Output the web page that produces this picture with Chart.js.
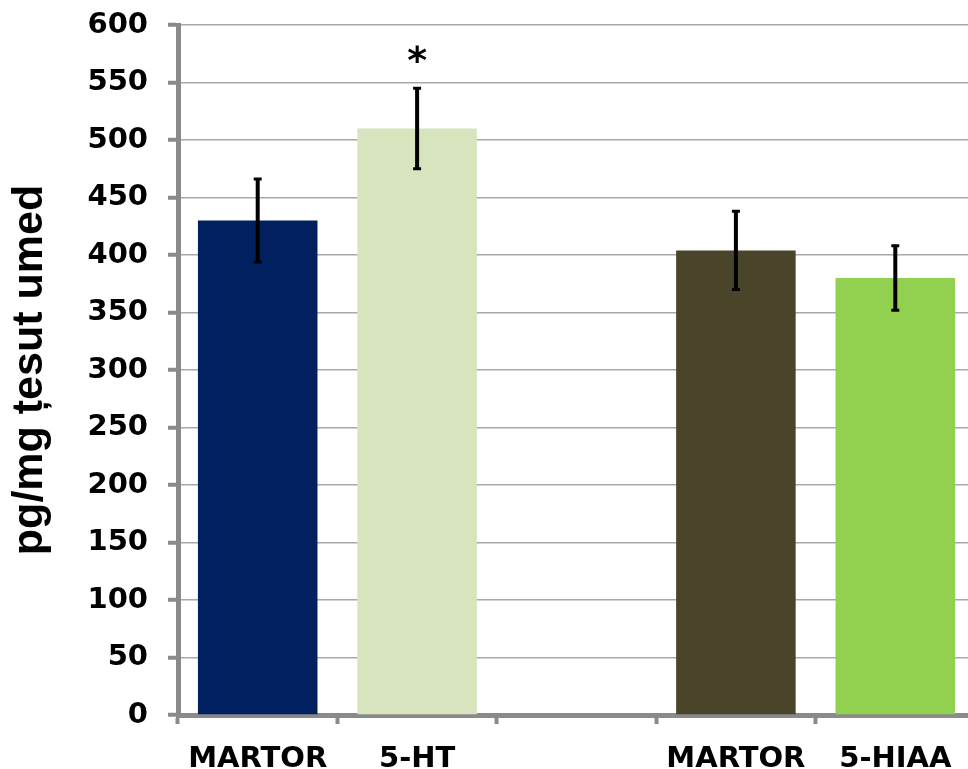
<!DOCTYPE html>
<html>
<head>
<meta charset="utf-8">
<script src="https://cdn.jsdelivr.net/npm/chart.js@4.4.1/dist/chart.umd.min.js"></script>
<style>
    html, body { margin: 0; padding: 0; background: #fff; overflow: hidden; }
    #wrap { width: 980px; height: 769px; position: relative; }
</style>
</head>
<body>
<div id="wrap"><canvas id="chart"></canvas></div>
<script>
// values
const categories = ['MARTOR', '5-HT', '', 'MARTOR', '5-HIAA'];
const values = [430, 510, null, 404, 380];
const errors = [36, 35, null, 34, 28];
const marks = ['', '*', '', '', ''];
const barColors = ['#002060', '#D7E4BD', '#ffffff', '#4A452A', '#92D050'];

const axisGray = '#8a8a8a';
const gridGray = '#a8a8a8';

// error bars and significance star
const errorBars = {
    id: 'errorBars',
    afterDatasetsDraw(chart) {
        const ctx = chart.ctx;
        const x = chart.scales.x;
        const y = chart.scales.y;
        ctx.save();
        ctx.strokeStyle = '#000';
        ctx.fillStyle = '#000';
        for (let i = 0; i < values.length; i++) {
            if (values[i] == null) continue;
            const px = x.getPixelForValue(i);
            const top = y.getPixelForValue(values[i] + errors[i]);
            const bot = y.getPixelForValue(values[i] - errors[i]);
            ctx.lineWidth = 4;
            ctx.beginPath();
            ctx.moveTo(px, top);
            ctx.lineTo(px, bot);
            ctx.stroke();
            ctx.lineWidth = 3;
            ctx.beginPath();
            ctx.moveTo(px - 4, top); ctx.lineTo(px + 4, top);
            ctx.moveTo(px - 4, bot); ctx.lineTo(px + 4, bot);
            ctx.stroke();
            if (marks[i]) {
                ctx.font = 'bold 38px "DejaVu Sans"';
                ctx.textAlign = 'center';
                ctx.textBaseline = 'middle';
                ctx.fillText(marks[i], px, top - 25);
            }
        }
        ctx.restore();
    }
};

const chart = new Chart(document.getElementById('chart'), {
    type: 'bar',
    data: {
        labels: categories,
        datasets: [{
            data: values,
            backgroundColor: barColors,
            barPercentage: 0.75,
            categoryPercentage: 1.0
        }]
    },
    options: {
        responsive: true,
        maintainAspectRatio: false,
        animation: false,
        layout: { padding: { top: 25, right: 5, left: 0, bottom: 0 } },
        plugins: {
            legend: { display: false },
            tooltip: { enabled: false }
        },
        scales: {
            x: {
                afterFit(scale) { scale.height = 54; },
                grid: {
                    drawOnChartArea: false,
                    drawTicks: true,
                    tickLength: 9,
                    tickWidth: 4,
                    tickColor: axisGray
                },
                border: { color: axisGray, width: 5 },
                ticks: {
                    color: '#000',
                    padding: 18,
                    font: { family: 'DejaVu Sans', size: 29, weight: 'bold' }
                }
            },
            y: {
                min: 0,
                max: 600,
                afterFit(scale) {
                    scale.width = 178;
                    scale.paddingTop = 0;
                    scale.paddingBottom = 0;
                },
                grid: {
                    color: gridGray,
                    lineWidth: 1.5,
                    drawTicks: true,
                    tickLength: 10,
                    tickWidth: 4,
                    tickColor: axisGray
                },
                border: { color: axisGray, width: 5 },
                ticks: {
                    stepSize: 50,
                    color: '#000',
                    padding: 20,
                    font: { family: 'DejaVu Sans', size: 29, weight: 'bold' }
                },
                title: {
                    display: true,
                    text: 'pg/mg țesut umed',
                    color: '#000',
                    padding: { top: 4, bottom: 0 },
                    font: { family: 'Liberation Sans', size: 43, weight: 'bold' }
                }
            }
        }
    },
    plugins: [errorBars]
});
</script>
</body>
</html>
